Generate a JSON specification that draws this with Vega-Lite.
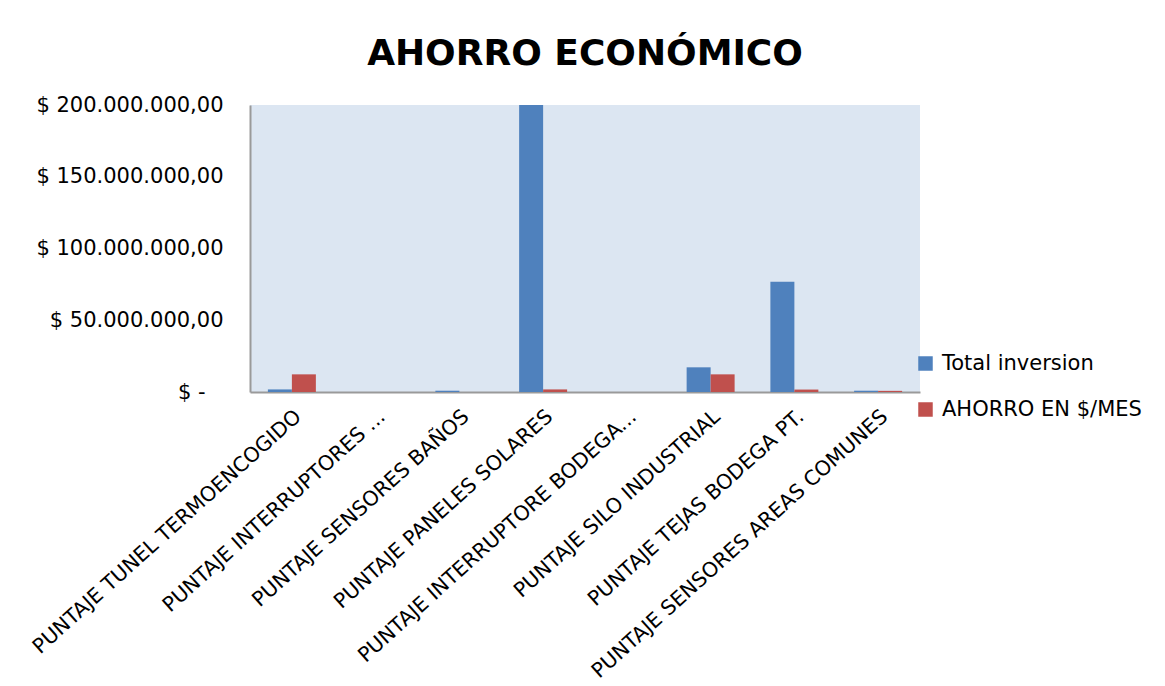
{
  "$schema": "https://vega.github.io/schema/vega-lite/v6.json",
  "autosize": {"type": "none"},
  "width": 670,
  "height": 287,
  "padding": {"left": 250, "top": 105, "right": 245, "bottom": 294},
  "background": "white",
  "title": {"text": "AHORRO ECONÓMICO", "font": "DejaVu Sans", "fontSize": 36, "fontWeight": "bold", "color": "#000000", "anchor": "middle", "offset": 21},
  "data": {"values": [
    {"proyecto": "PUNTAJE TUNEL TERMOENCOGIDO", "serie": "Total inversion", "valor": 1800000},
    {"proyecto": "PUNTAJE TUNEL TERMOENCOGIDO", "serie": "AHORRO EN $/MES", "valor": 12300000},
    {"proyecto": "PUNTAJE INTERRUPTORES ...", "serie": "Total inversion", "valor": 0},
    {"proyecto": "PUNTAJE INTERRUPTORES ...", "serie": "AHORRO EN $/MES", "valor": 0},
    {"proyecto": "PUNTAJE SENSORES BAÑOS", "serie": "Total inversion", "valor": 900000},
    {"proyecto": "PUNTAJE SENSORES BAÑOS", "serie": "AHORRO EN $/MES", "valor": 0},
    {"proyecto": "PUNTAJE PANELES SOLARES", "serie": "Total inversion", "valor": 200000000},
    {"proyecto": "PUNTAJE PANELES SOLARES", "serie": "AHORRO EN $/MES", "valor": 1800000},
    {"proyecto": "PUNTAJE INTERRUPTORE BODEGA...", "serie": "Total inversion", "valor": 0},
    {"proyecto": "PUNTAJE INTERRUPTORE BODEGA...", "serie": "AHORRO EN $/MES", "valor": 0},
    {"proyecto": "PUNTAJE SILO INDUSTRIAL", "serie": "Total inversion", "valor": 17200000},
    {"proyecto": "PUNTAJE SILO INDUSTRIAL", "serie": "AHORRO EN $/MES", "valor": 12300000},
    {"proyecto": "PUNTAJE TEJAS BODEGA PT.", "serie": "Total inversion", "valor": 76900000},
    {"proyecto": "PUNTAJE TEJAS BODEGA PT.", "serie": "AHORRO EN $/MES", "valor": 1700000},
    {"proyecto": "PUNTAJE SENSORES AREAS COMUNES", "serie": "Total inversion", "valor": 900000},
    {"proyecto": "PUNTAJE SENSORES AREAS COMUNES", "serie": "AHORRO EN $/MES", "valor": 800000}
  ]},
  "mark": {"type": "bar"},
  "encoding": {
    "x": {
      "field": "proyecto", "type": "nominal", "sort": null,
      "scale": {"paddingInner": 0.427, "paddingOuter": 0.2135},
      "axis": {"title": null, "labelAngle": -42, "labelFont": "DejaVu Sans", "labelFontSize": 20.5, "labelColor": "#000000", "labelPadding": 14, "ticks": false, "domainColor": "#9a9a9a", "domainWidth": 2, "labelLimit": 500, "labelOverlap": false}
    },
    "xOffset": {"field": "serie", "type": "nominal", "sort": ["Total inversion", "AHORRO EN $/MES"], "scale": {"paddingInner": 0, "paddingOuter": 0}},
    "y": {
      "field": "valor", "type": "quantitative",
      "scale": {"domain": [0, 200000000], "nice": false, "clamp": true},
      "axis": {"title": null, "values": [0, 50000000, 100000000, 150000000, 200000000], "format": "$,.2f", "labelExpr": "datum.value == 0 ? '$ -' : datum.label", "labelFont": "DejaVu Sans", "labelFontSize": 21, "labelColor": "#000000", "labelPadding": {"condition": {"test": "datum.value == 0", "value": 45}, "value": 27}, "labelLimit": 400, "ticks": false, "grid": false, "domainColor": "#9a9a9a", "domainWidth": 2}
    },
    "color": {
      "field": "serie", "type": "nominal",
      "scale": {"domain": ["Total inversion", "AHORRO EN $/MES"], "range": ["#4F81BD", "#C0504D"]},
      "legend": {"title": null, "orient": "none", "legendX": 665, "legendY": 248, "symbolType": "square", "symbolSize": 210, "symbolStrokeWidth": 0, "labelFont": "DejaVu Sans", "labelFontSize": 21, "labelColor": "#000000", "rowPadding": 24, "labelOffset": 6, "labelLimit": 300}
    }
  },
  "config": {
    "locale": {"number": {"decimal": ",", "thousands": ".", "grouping": [3], "currency": ["$ ", ""]}},
    "view": {"fill": "#DCE6F2", "stroke": null}
  }
}
